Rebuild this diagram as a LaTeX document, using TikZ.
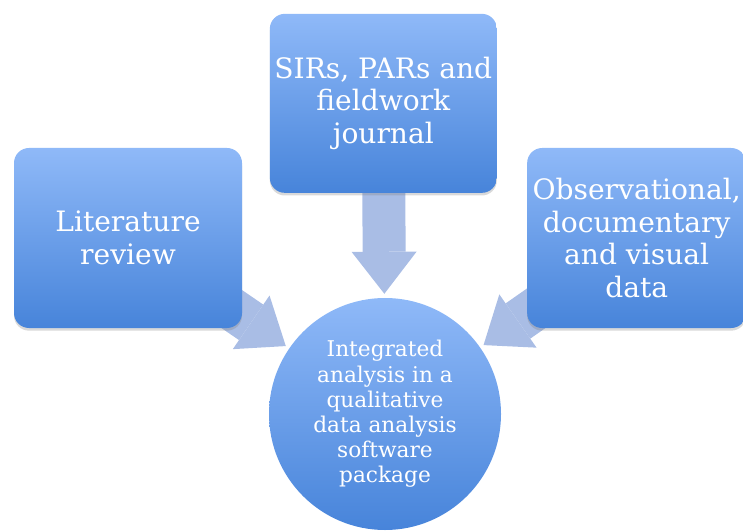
\documentclass[tikz,border=0pt]{standalone}
\usepackage{fontspec}
\setmainfont{DejaVu Serif}
\usepackage{xcolor}
\usepackage{tikz}
\usetikzlibrary{arrows.meta, shadows, backgrounds}

\definecolor{boxtop}{HTML}{8FB9F8}
\definecolor{boxbottom}{HTML}{4784DA}
\definecolor{flowblue}{HTML}{A9BDE5}

\begin{document}
\begin{tikzpicture}[
        source/.style={rounded corners=0.45cm, top color=boxtop, bottom color=boxbottom, text=white,
            align=center, inner sep=2pt, font=\fontsize{24}{28}\selectfont,
            drop shadow={shadow xshift=0pt, shadow yshift=-0.08cm, opacity=0.3}},
        target/.style={circle, top color=boxtop, bottom color=boxbottom, text=white,
            align=center, inner sep=0pt, minimum size=6.96cm, font=\fontsize{18.5}{21.5}\selectfont},
        flow/.style={line width=1.29cm, color=flowblue,
            -{Triangle[length=1.26cm, width=1.95cm, line width=0pt, fill=flowblue]}, shorten >=0.12cm}
    ]
                \useasboundingbox (0,0) rectangle (22.29,15.9);
                \node[source, minimum width=6.84cm, minimum height=5.4cm] at (3.84,8.76) (lit) {Literature\\review};
                \node[source, minimum width=6.81cm, minimum height=5.37cm] at (11.5,12.8) (sirs) {SIRs, PARs and\\fieldwork\\journal};
                \node[source, minimum width=6.57cm, minimum height=5.4cm] at (19.1,8.76) (obs) {Observational,\\documentary\\and visual\\data};
                \node[target] at (11.55,3.48) (qda) {Integrated\\analysis in a\\qualitative\\data analysis\\software\\package};
                \begin{pgfonlayer}{background}
                \path[flow]
                    (lit.center)  edge (qda)
                    (sirs.center) edge (qda)
                    (obs.center)  edge (qda);
                \end{pgfonlayer}
            \end{tikzpicture}
\end{document}
